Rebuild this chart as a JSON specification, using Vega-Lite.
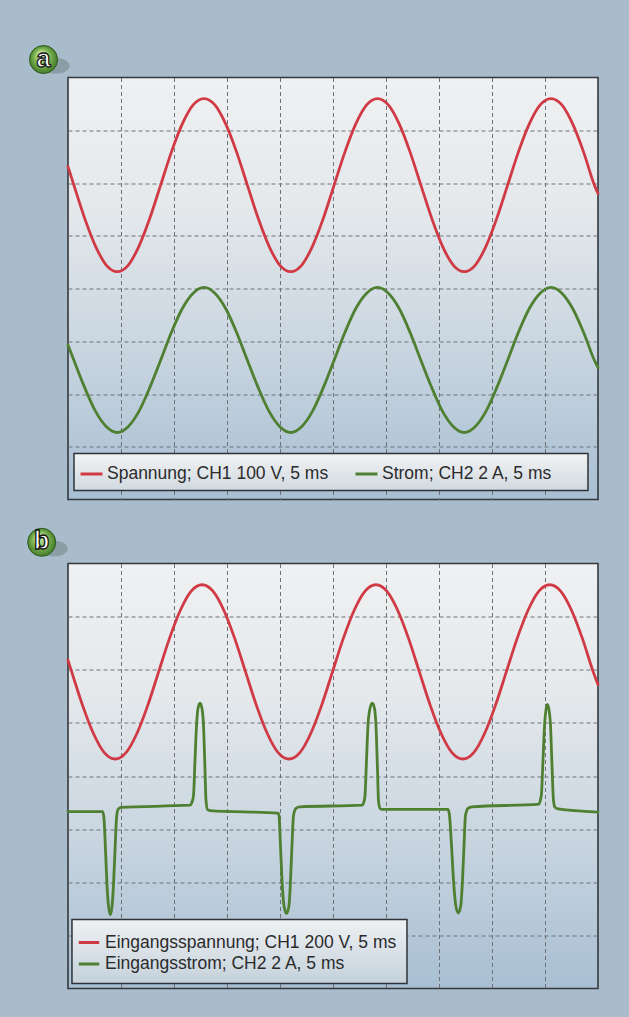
{
  "$schema": "https://vega.github.io/schema/vega-lite/v6.json",
  "background": "#a8bccb",
  "padding": {"left": 24, "top": 42.5, "right": 33, "bottom": 30},
  "bounds": "flush",
  "spacing": 64,
  "config": {
    "view": {
      "stroke": "#34373b",
      "strokeWidth": 1.6,
      "fill": {"gradient": "linear", "x1": 0, "y1": 0, "x2": 0, "y2": 1,
        "stops": [{"offset": 0, "color": "#eff0f1"}, {"offset": 0.3, "color": "#e5e9ec"}, {"offset": 0.65, "color": "#c8d5e0"}, {"offset": 1, "color": "#a8bfd3"}]}
    },
    "axis": {"labels": false, "ticks": false, "domain": false, "grid": true, "gridColor": "#6e7277", "gridDash": [4, 3], "gridWidth": 1, "gridOpacity": 1, "minExtent": 0, "maxExtent": 0, "labelPadding": 0, "tickSize": 0},
    "legend": {"labelFont": "Liberation Sans", "labelFontSize": 17.5, "labelColor": "#2b2b2b", "symbolType": "stroke", "symbolStrokeWidth": 3, "padding": 0, "labelLimit": 600}
  },
  "resolve": {"scale": {"x": "independent", "y": "independent", "color": "independent"}, "legend": {"color": "independent"}},
  "vconcat": [
    {
      "width": 530,
      "height": 422,
      "layer": [
        {
          "data": {"values": [
            {"x": 0, "y": 6.31, "s": "Spannung; CH1 100 V, 5 ms"},
            {"x": 0.111, "y": 5.96, "s": "Spannung; CH1 100 V, 5 ms"},
            {"x": 0.315, "y": 5.33, "s": "Spannung; CH1 100 V, 5 ms"},
            {"x": 0.52, "y": 4.8, "s": "Spannung; CH1 100 V, 5 ms"},
            {"x": 0.725, "y": 4.44, "s": "Spannung; CH1 100 V, 5 ms"},
            {"x": 0.929, "y": 4.32, "s": "Spannung; CH1 100 V, 5 ms"},
            {"x": 1.134, "y": 4.44, "s": "Spannung; CH1 100 V, 5 ms"},
            {"x": 1.338, "y": 4.8, "s": "Spannung; CH1 100 V, 5 ms"},
            {"x": 1.543, "y": 5.33, "s": "Spannung; CH1 100 V, 5 ms"},
            {"x": 1.748, "y": 5.96, "s": "Spannung; CH1 100 V, 5 ms"},
            {"x": 1.952, "y": 6.59, "s": "Spannung; CH1 100 V, 5 ms"},
            {"x": 2.157, "y": 7.12, "s": "Spannung; CH1 100 V, 5 ms"},
            {"x": 2.361, "y": 7.48, "s": "Spannung; CH1 100 V, 5 ms"},
            {"x": 2.566, "y": 7.6, "s": "Spannung; CH1 100 V, 5 ms"},
            {"x": 2.771, "y": 7.48, "s": "Spannung; CH1 100 V, 5 ms"},
            {"x": 2.975, "y": 7.12, "s": "Spannung; CH1 100 V, 5 ms"},
            {"x": 3.18, "y": 6.59, "s": "Spannung; CH1 100 V, 5 ms"},
            {"x": 3.384, "y": 5.96, "s": "Spannung; CH1 100 V, 5 ms"},
            {"x": 3.589, "y": 5.33, "s": "Spannung; CH1 100 V, 5 ms"},
            {"x": 3.794, "y": 4.8, "s": "Spannung; CH1 100 V, 5 ms"},
            {"x": 3.998, "y": 4.44, "s": "Spannung; CH1 100 V, 5 ms"},
            {"x": 4.203, "y": 4.32, "s": "Spannung; CH1 100 V, 5 ms"},
            {"x": 4.407, "y": 4.44, "s": "Spannung; CH1 100 V, 5 ms"},
            {"x": 4.612, "y": 4.8, "s": "Spannung; CH1 100 V, 5 ms"},
            {"x": 4.817, "y": 5.33, "s": "Spannung; CH1 100 V, 5 ms"},
            {"x": 5.021, "y": 5.96, "s": "Spannung; CH1 100 V, 5 ms"},
            {"x": 5.226, "y": 6.59, "s": "Spannung; CH1 100 V, 5 ms"},
            {"x": 5.43, "y": 7.12, "s": "Spannung; CH1 100 V, 5 ms"},
            {"x": 5.635, "y": 7.48, "s": "Spannung; CH1 100 V, 5 ms"},
            {"x": 5.84, "y": 7.6, "s": "Spannung; CH1 100 V, 5 ms"},
            {"x": 6.044, "y": 7.48, "s": "Spannung; CH1 100 V, 5 ms"},
            {"x": 6.249, "y": 7.12, "s": "Spannung; CH1 100 V, 5 ms"},
            {"x": 6.453, "y": 6.59, "s": "Spannung; CH1 100 V, 5 ms"},
            {"x": 6.658, "y": 5.96, "s": "Spannung; CH1 100 V, 5 ms"},
            {"x": 6.863, "y": 5.33, "s": "Spannung; CH1 100 V, 5 ms"},
            {"x": 7.067, "y": 4.8, "s": "Spannung; CH1 100 V, 5 ms"},
            {"x": 7.272, "y": 4.44, "s": "Spannung; CH1 100 V, 5 ms"},
            {"x": 7.476, "y": 4.32, "s": "Spannung; CH1 100 V, 5 ms"},
            {"x": 7.681, "y": 4.44, "s": "Spannung; CH1 100 V, 5 ms"},
            {"x": 7.886, "y": 4.8, "s": "Spannung; CH1 100 V, 5 ms"},
            {"x": 8.09, "y": 5.33, "s": "Spannung; CH1 100 V, 5 ms"},
            {"x": 8.295, "y": 5.96, "s": "Spannung; CH1 100 V, 5 ms"},
            {"x": 8.499, "y": 6.59, "s": "Spannung; CH1 100 V, 5 ms"},
            {"x": 8.704, "y": 7.12, "s": "Spannung; CH1 100 V, 5 ms"},
            {"x": 8.909, "y": 7.48, "s": "Spannung; CH1 100 V, 5 ms"},
            {"x": 9.113, "y": 7.6, "s": "Spannung; CH1 100 V, 5 ms"},
            {"x": 9.318, "y": 7.48, "s": "Spannung; CH1 100 V, 5 ms"},
            {"x": 9.522, "y": 7.12, "s": "Spannung; CH1 100 V, 5 ms"},
            {"x": 9.727, "y": 6.59, "s": "Spannung; CH1 100 V, 5 ms"},
            {"x": 9.932, "y": 5.96, "s": "Spannung; CH1 100 V, 5 ms"},
            {"x": 10, "y": 5.8, "s": "Spannung; CH1 100 V, 5 ms"},
            {"x": 0, "y": 2.93, "s": "Strom; CH2 2 A, 5 ms"},
            {"x": 0.111, "y": 2.64, "s": "Strom; CH2 2 A, 5 ms"},
            {"x": 0.315, "y": 2.12, "s": "Strom; CH2 2 A, 5 ms"},
            {"x": 0.52, "y": 1.67, "s": "Strom; CH2 2 A, 5 ms"},
            {"x": 0.725, "y": 1.38, "s": "Strom; CH2 2 A, 5 ms"},
            {"x": 0.929, "y": 1.27, "s": "Strom; CH2 2 A, 5 ms"},
            {"x": 1.134, "y": 1.38, "s": "Strom; CH2 2 A, 5 ms"},
            {"x": 1.338, "y": 1.67, "s": "Strom; CH2 2 A, 5 ms"},
            {"x": 1.543, "y": 2.12, "s": "Strom; CH2 2 A, 5 ms"},
            {"x": 1.748, "y": 2.64, "s": "Strom; CH2 2 A, 5 ms"},
            {"x": 1.952, "y": 3.17, "s": "Strom; CH2 2 A, 5 ms"},
            {"x": 2.157, "y": 3.62, "s": "Strom; CH2 2 A, 5 ms"},
            {"x": 2.361, "y": 3.91, "s": "Strom; CH2 2 A, 5 ms"},
            {"x": 2.566, "y": 4.02, "s": "Strom; CH2 2 A, 5 ms"},
            {"x": 2.771, "y": 3.91, "s": "Strom; CH2 2 A, 5 ms"},
            {"x": 2.975, "y": 3.62, "s": "Strom; CH2 2 A, 5 ms"},
            {"x": 3.18, "y": 3.17, "s": "Strom; CH2 2 A, 5 ms"},
            {"x": 3.384, "y": 2.64, "s": "Strom; CH2 2 A, 5 ms"},
            {"x": 3.589, "y": 2.12, "s": "Strom; CH2 2 A, 5 ms"},
            {"x": 3.794, "y": 1.67, "s": "Strom; CH2 2 A, 5 ms"},
            {"x": 3.998, "y": 1.38, "s": "Strom; CH2 2 A, 5 ms"},
            {"x": 4.203, "y": 1.27, "s": "Strom; CH2 2 A, 5 ms"},
            {"x": 4.407, "y": 1.38, "s": "Strom; CH2 2 A, 5 ms"},
            {"x": 4.612, "y": 1.67, "s": "Strom; CH2 2 A, 5 ms"},
            {"x": 4.817, "y": 2.12, "s": "Strom; CH2 2 A, 5 ms"},
            {"x": 5.021, "y": 2.64, "s": "Strom; CH2 2 A, 5 ms"},
            {"x": 5.226, "y": 3.17, "s": "Strom; CH2 2 A, 5 ms"},
            {"x": 5.43, "y": 3.62, "s": "Strom; CH2 2 A, 5 ms"},
            {"x": 5.635, "y": 3.91, "s": "Strom; CH2 2 A, 5 ms"},
            {"x": 5.84, "y": 4.02, "s": "Strom; CH2 2 A, 5 ms"},
            {"x": 6.044, "y": 3.91, "s": "Strom; CH2 2 A, 5 ms"},
            {"x": 6.249, "y": 3.62, "s": "Strom; CH2 2 A, 5 ms"},
            {"x": 6.453, "y": 3.17, "s": "Strom; CH2 2 A, 5 ms"},
            {"x": 6.658, "y": 2.64, "s": "Strom; CH2 2 A, 5 ms"},
            {"x": 6.863, "y": 2.12, "s": "Strom; CH2 2 A, 5 ms"},
            {"x": 7.067, "y": 1.67, "s": "Strom; CH2 2 A, 5 ms"},
            {"x": 7.272, "y": 1.38, "s": "Strom; CH2 2 A, 5 ms"},
            {"x": 7.476, "y": 1.27, "s": "Strom; CH2 2 A, 5 ms"},
            {"x": 7.681, "y": 1.38, "s": "Strom; CH2 2 A, 5 ms"},
            {"x": 7.886, "y": 1.67, "s": "Strom; CH2 2 A, 5 ms"},
            {"x": 8.09, "y": 2.12, "s": "Strom; CH2 2 A, 5 ms"},
            {"x": 8.295, "y": 2.64, "s": "Strom; CH2 2 A, 5 ms"},
            {"x": 8.499, "y": 3.17, "s": "Strom; CH2 2 A, 5 ms"},
            {"x": 8.704, "y": 3.62, "s": "Strom; CH2 2 A, 5 ms"},
            {"x": 8.909, "y": 3.91, "s": "Strom; CH2 2 A, 5 ms"},
            {"x": 9.113, "y": 4.02, "s": "Strom; CH2 2 A, 5 ms"},
            {"x": 9.318, "y": 3.91, "s": "Strom; CH2 2 A, 5 ms"},
            {"x": 9.522, "y": 3.62, "s": "Strom; CH2 2 A, 5 ms"},
            {"x": 9.727, "y": 3.17, "s": "Strom; CH2 2 A, 5 ms"},
            {"x": 9.932, "y": 2.64, "s": "Strom; CH2 2 A, 5 ms"},
            {"x": 10, "y": 2.5, "s": "Strom; CH2 2 A, 5 ms"}
          ]},
          "mark": {"type": "line", "interpolate": "monotone", "strokeWidth": 2.8, "strokeCap": "round"},
          "encoding": {
            "x": {"field": "x", "type": "quantitative", "title": null, "scale": {"domain": [0, 10], "nice": false, "zero": false}, "axis": {"values": [1, 2, 3, 4, 5, 6, 7, 8, 9]}},
            "y": {"field": "y", "type": "quantitative", "title": null, "scale": {"domain": [0, 8], "nice": false, "zero": false}, "axis": {"values": [1, 2, 3, 4, 5, 6, 7]}},
            "color": {"field": "s", "type": "nominal",
              "scale": {"domain": ["Spannung; CH1 100 V, 5 ms", "Strom; CH2 2 A, 5 ms"], "range": ["#d03a45", "#4f7f30"]},
              "legend": {"title": null, "orient": "none", "legendX": 11, "legendY": 384, "direction": "horizontal", "symbolSize": 484, "labelOffset": 3, "columnPadding": 20, "zindex": 1}}
          }
        },
        {
          "data": {"values": [{}]},
          "mark": {"type": "rect", "stroke": "#2f3236", "strokeWidth": 1.5,
            "fill": {"gradient": "linear", "x1": 0, "y1": 0, "x2": 0, "y2": 1, "stops": [{"offset": 0, "color": "#f2f3f4"}, {"offset": 1, "color": "#d0d9e0"}]}},
          "encoding": {"x": {"datum": 0.113, "title": null}, "x2": {"datum": 9.811}, "y": {"datum": 0.872, "title": null}, "y2": {"datum": 0.171}}
        },
        {
          "data": {"values": [{}]},
          "mark": {"type": "point", "filled": true, "shape": "M-1,0A1,0.55,0,1,0,1,0A1,0.55,0,1,0,-1,0Z", "size": 800, "color": "#56665e", "opacity": 0.35},
          "encoding": {"x": {"datum": -0.236, "title": null}, "y": {"datum": 8.22, "title": null}}
        },
        {
          "data": {"values": [{}]},
          "mark": {"type": "point", "filled": true, "shape": "circle", "size": 784, "stroke": "#2c5a1c", "strokeWidth": 1, "opacity": 1,
            "fill": {"gradient": "radial", "x1": 0.4, "y1": 0.3, "r1": 0.02, "x2": 0.5, "y2": 0.5, "r2": 0.55, "stops": [{"offset": 0, "color": "#e2f5c8"}, {"offset": 0.45, "color": "#86bb58"}, {"offset": 1, "color": "#3b7325"}]}},
          "encoding": {"x": {"datum": -0.462, "title": null}, "y": {"datum": 8.341, "title": null}}
        },
        {
          "data": {"values": [{}]},
          "mark": {"type": "text", "text": "a", "font": "Liberation Sans", "fontWeight": "bold", "fontSize": 25, "fill": "#ffffff", "stroke": "#151515", "strokeWidth": 1.3, "align": "center", "baseline": "alphabetic", "dy": 7},
          "encoding": {"x": {"datum": -0.462, "title": null}, "y": {"datum": 8.341, "title": null}}
        }
      ]
    },
    {
      "width": 530,
      "height": 425,
      "layer": [
        {
          "data": {"values": [
            {"x": 0, "y": 6.18, "s": "Eingangsspannung; CH1 200 V, 5 ms"},
            {"x": 0.07, "y": 5.96, "s": "Eingangsspannung; CH1 200 V, 5 ms"},
            {"x": 0.275, "y": 5.33, "s": "Eingangsspannung; CH1 200 V, 5 ms"},
            {"x": 0.48, "y": 4.8, "s": "Eingangsspannung; CH1 200 V, 5 ms"},
            {"x": 0.685, "y": 4.44, "s": "Eingangsspannung; CH1 200 V, 5 ms"},
            {"x": 0.89, "y": 4.32, "s": "Eingangsspannung; CH1 200 V, 5 ms"},
            {"x": 1.095, "y": 4.44, "s": "Eingangsspannung; CH1 200 V, 5 ms"},
            {"x": 1.3, "y": 4.8, "s": "Eingangsspannung; CH1 200 V, 5 ms"},
            {"x": 1.505, "y": 5.33, "s": "Eingangsspannung; CH1 200 V, 5 ms"},
            {"x": 1.71, "y": 5.96, "s": "Eingangsspannung; CH1 200 V, 5 ms"},
            {"x": 1.915, "y": 6.59, "s": "Eingangsspannung; CH1 200 V, 5 ms"},
            {"x": 2.12, "y": 7.12, "s": "Eingangsspannung; CH1 200 V, 5 ms"},
            {"x": 2.325, "y": 7.48, "s": "Eingangsspannung; CH1 200 V, 5 ms"},
            {"x": 2.53, "y": 7.6, "s": "Eingangsspannung; CH1 200 V, 5 ms"},
            {"x": 2.735, "y": 7.48, "s": "Eingangsspannung; CH1 200 V, 5 ms"},
            {"x": 2.94, "y": 7.12, "s": "Eingangsspannung; CH1 200 V, 5 ms"},
            {"x": 3.145, "y": 6.59, "s": "Eingangsspannung; CH1 200 V, 5 ms"},
            {"x": 3.35, "y": 5.96, "s": "Eingangsspannung; CH1 200 V, 5 ms"},
            {"x": 3.555, "y": 5.33, "s": "Eingangsspannung; CH1 200 V, 5 ms"},
            {"x": 3.76, "y": 4.8, "s": "Eingangsspannung; CH1 200 V, 5 ms"},
            {"x": 3.965, "y": 4.44, "s": "Eingangsspannung; CH1 200 V, 5 ms"},
            {"x": 4.17, "y": 4.32, "s": "Eingangsspannung; CH1 200 V, 5 ms"},
            {"x": 4.375, "y": 4.44, "s": "Eingangsspannung; CH1 200 V, 5 ms"},
            {"x": 4.58, "y": 4.8, "s": "Eingangsspannung; CH1 200 V, 5 ms"},
            {"x": 4.785, "y": 5.33, "s": "Eingangsspannung; CH1 200 V, 5 ms"},
            {"x": 4.99, "y": 5.96, "s": "Eingangsspannung; CH1 200 V, 5 ms"},
            {"x": 5.195, "y": 6.59, "s": "Eingangsspannung; CH1 200 V, 5 ms"},
            {"x": 5.4, "y": 7.12, "s": "Eingangsspannung; CH1 200 V, 5 ms"},
            {"x": 5.605, "y": 7.48, "s": "Eingangsspannung; CH1 200 V, 5 ms"},
            {"x": 5.81, "y": 7.6, "s": "Eingangsspannung; CH1 200 V, 5 ms"},
            {"x": 6.015, "y": 7.48, "s": "Eingangsspannung; CH1 200 V, 5 ms"},
            {"x": 6.22, "y": 7.12, "s": "Eingangsspannung; CH1 200 V, 5 ms"},
            {"x": 6.425, "y": 6.59, "s": "Eingangsspannung; CH1 200 V, 5 ms"},
            {"x": 6.63, "y": 5.96, "s": "Eingangsspannung; CH1 200 V, 5 ms"},
            {"x": 6.835, "y": 5.33, "s": "Eingangsspannung; CH1 200 V, 5 ms"},
            {"x": 7.04, "y": 4.8, "s": "Eingangsspannung; CH1 200 V, 5 ms"},
            {"x": 7.245, "y": 4.44, "s": "Eingangsspannung; CH1 200 V, 5 ms"},
            {"x": 7.45, "y": 4.32, "s": "Eingangsspannung; CH1 200 V, 5 ms"},
            {"x": 7.655, "y": 4.44, "s": "Eingangsspannung; CH1 200 V, 5 ms"},
            {"x": 7.86, "y": 4.8, "s": "Eingangsspannung; CH1 200 V, 5 ms"},
            {"x": 8.065, "y": 5.33, "s": "Eingangsspannung; CH1 200 V, 5 ms"},
            {"x": 8.27, "y": 5.96, "s": "Eingangsspannung; CH1 200 V, 5 ms"},
            {"x": 8.475, "y": 6.59, "s": "Eingangsspannung; CH1 200 V, 5 ms"},
            {"x": 8.68, "y": 7.12, "s": "Eingangsspannung; CH1 200 V, 5 ms"},
            {"x": 8.885, "y": 7.48, "s": "Eingangsspannung; CH1 200 V, 5 ms"},
            {"x": 9.09, "y": 7.6, "s": "Eingangsspannung; CH1 200 V, 5 ms"},
            {"x": 9.295, "y": 7.48, "s": "Eingangsspannung; CH1 200 V, 5 ms"},
            {"x": 9.5, "y": 7.12, "s": "Eingangsspannung; CH1 200 V, 5 ms"},
            {"x": 9.705, "y": 6.59, "s": "Eingangsspannung; CH1 200 V, 5 ms"},
            {"x": 9.91, "y": 5.96, "s": "Eingangsspannung; CH1 200 V, 5 ms"},
            {"x": 10, "y": 5.72, "s": "Eingangsspannung; CH1 200 V, 5 ms"},
            {"x": 0, "y": 3.33, "s": "Eingangsstrom; CH2 2 A, 5 ms"},
            {"x": 0.655, "y": 3.33, "s": "Eingangsstrom; CH2 2 A, 5 ms"},
            {"x": 0.679, "y": 3.2, "s": "Eingangsstrom; CH2 2 A, 5 ms"},
            {"x": 0.708, "y": 2.6, "s": "Eingangsstrom; CH2 2 A, 5 ms"},
            {"x": 0.736, "y": 1.94, "s": "Eingangsstrom; CH2 2 A, 5 ms"},
            {"x": 0.764, "y": 1.56, "s": "Eingangsstrom; CH2 2 A, 5 ms"},
            {"x": 0.798, "y": 1.39, "s": "Eingangsstrom; CH2 2 A, 5 ms"},
            {"x": 0.83, "y": 1.54, "s": "Eingangsstrom; CH2 2 A, 5 ms"},
            {"x": 0.858, "y": 1.94, "s": "Eingangsstrom; CH2 2 A, 5 ms"},
            {"x": 0.887, "y": 2.6, "s": "Eingangsstrom; CH2 2 A, 5 ms"},
            {"x": 0.915, "y": 3.2, "s": "Eingangsstrom; CH2 2 A, 5 ms"},
            {"x": 0.943, "y": 3.37, "s": "Eingangsstrom; CH2 2 A, 5 ms"},
            {"x": 1.0, "y": 3.41, "s": "Eingangsstrom; CH2 2 A, 5 ms"},
            {"x": 2.302, "y": 3.45, "s": "Eingangsstrom; CH2 2 A, 5 ms"},
            {"x": 2.349, "y": 3.54, "s": "Eingangsstrom; CH2 2 A, 5 ms"},
            {"x": 2.368, "y": 3.63, "s": "Eingangsstrom; CH2 2 A, 5 ms"},
            {"x": 2.396, "y": 4.29, "s": "Eingangsstrom; CH2 2 A, 5 ms"},
            {"x": 2.425, "y": 4.95, "s": "Eingangsstrom; CH2 2 A, 5 ms"},
            {"x": 2.453, "y": 5.27, "s": "Eingangsstrom; CH2 2 A, 5 ms"},
            {"x": 2.491, "y": 5.37, "s": "Eingangsstrom; CH2 2 A, 5 ms"},
            {"x": 2.528, "y": 5.27, "s": "Eingangsstrom; CH2 2 A, 5 ms"},
            {"x": 2.557, "y": 4.95, "s": "Eingangsstrom; CH2 2 A, 5 ms"},
            {"x": 2.585, "y": 4.11, "s": "Eingangsstrom; CH2 2 A, 5 ms"},
            {"x": 2.604, "y": 3.54, "s": "Eingangsstrom; CH2 2 A, 5 ms"},
            {"x": 2.632, "y": 3.37, "s": "Eingangsstrom; CH2 2 A, 5 ms"},
            {"x": 2.679, "y": 3.35, "s": "Eingangsstrom; CH2 2 A, 5 ms"},
            {"x": 3.962, "y": 3.3, "s": "Eingangsstrom; CH2 2 A, 5 ms"},
            {"x": 3.981, "y": 3.26, "s": "Eingangsstrom; CH2 2 A, 5 ms"},
            {"x": 4.009, "y": 2.69, "s": "Eingangsstrom; CH2 2 A, 5 ms"},
            {"x": 4.038, "y": 2.03, "s": "Eingangsstrom; CH2 2 A, 5 ms"},
            {"x": 4.075, "y": 1.56, "s": "Eingangsstrom; CH2 2 A, 5 ms"},
            {"x": 4.123, "y": 1.41, "s": "Eingangsstrom; CH2 2 A, 5 ms"},
            {"x": 4.17, "y": 1.56, "s": "Eingangsstrom; CH2 2 A, 5 ms"},
            {"x": 4.198, "y": 2.03, "s": "Eingangsstrom; CH2 2 A, 5 ms"},
            {"x": 4.226, "y": 2.69, "s": "Eingangsstrom; CH2 2 A, 5 ms"},
            {"x": 4.255, "y": 3.26, "s": "Eingangsstrom; CH2 2 A, 5 ms"},
            {"x": 4.302, "y": 3.39, "s": "Eingangsstrom; CH2 2 A, 5 ms"},
            {"x": 4.377, "y": 3.42, "s": "Eingangsstrom; CH2 2 A, 5 ms"},
            {"x": 5.547, "y": 3.45, "s": "Eingangsstrom; CH2 2 A, 5 ms"},
            {"x": 5.585, "y": 3.52, "s": "Eingangsstrom; CH2 2 A, 5 ms"},
            {"x": 5.604, "y": 3.63, "s": "Eingangsstrom; CH2 2 A, 5 ms"},
            {"x": 5.632, "y": 4.29, "s": "Eingangsstrom; CH2 2 A, 5 ms"},
            {"x": 5.66, "y": 4.95, "s": "Eingangsstrom; CH2 2 A, 5 ms"},
            {"x": 5.698, "y": 5.27, "s": "Eingangsstrom; CH2 2 A, 5 ms"},
            {"x": 5.742, "y": 5.37, "s": "Eingangsstrom; CH2 2 A, 5 ms"},
            {"x": 5.783, "y": 5.27, "s": "Eingangsstrom; CH2 2 A, 5 ms"},
            {"x": 5.811, "y": 4.95, "s": "Eingangsstrom; CH2 2 A, 5 ms"},
            {"x": 5.84, "y": 4.11, "s": "Eingangsstrom; CH2 2 A, 5 ms"},
            {"x": 5.858, "y": 3.54, "s": "Eingangsstrom; CH2 2 A, 5 ms"},
            {"x": 5.887, "y": 3.39, "s": "Eingangsstrom; CH2 2 A, 5 ms"},
            {"x": 5.925, "y": 3.37, "s": "Eingangsstrom; CH2 2 A, 5 ms"},
            {"x": 7.17, "y": 3.37, "s": "Eingangsstrom; CH2 2 A, 5 ms"},
            {"x": 7.198, "y": 3.26, "s": "Eingangsstrom; CH2 2 A, 5 ms"},
            {"x": 7.236, "y": 2.69, "s": "Eingangsstrom; CH2 2 A, 5 ms"},
            {"x": 7.274, "y": 2.03, "s": "Eingangsstrom; CH2 2 A, 5 ms"},
            {"x": 7.317, "y": 1.56, "s": "Eingangsstrom; CH2 2 A, 5 ms"},
            {"x": 7.364, "y": 1.42, "s": "Eingangsstrom; CH2 2 A, 5 ms"},
            {"x": 7.411, "y": 1.56, "s": "Eingangsstrom; CH2 2 A, 5 ms"},
            {"x": 7.443, "y": 2.03, "s": "Eingangsstrom; CH2 2 A, 5 ms"},
            {"x": 7.472, "y": 2.69, "s": "Eingangsstrom; CH2 2 A, 5 ms"},
            {"x": 7.5, "y": 3.26, "s": "Eingangsstrom; CH2 2 A, 5 ms"},
            {"x": 7.547, "y": 3.39, "s": "Eingangsstrom; CH2 2 A, 5 ms"},
            {"x": 7.623, "y": 3.42, "s": "Eingangsstrom; CH2 2 A, 5 ms"},
            {"x": 8.887, "y": 3.47, "s": "Eingangsstrom; CH2 2 A, 5 ms"},
            {"x": 8.915, "y": 3.56, "s": "Eingangsstrom; CH2 2 A, 5 ms"},
            {"x": 8.934, "y": 3.67, "s": "Eingangsstrom; CH2 2 A, 5 ms"},
            {"x": 8.962, "y": 4.29, "s": "Eingangsstrom; CH2 2 A, 5 ms"},
            {"x": 8.991, "y": 4.95, "s": "Eingangsstrom; CH2 2 A, 5 ms"},
            {"x": 9.019, "y": 5.25, "s": "Eingangsstrom; CH2 2 A, 5 ms"},
            {"x": 9.043, "y": 5.35, "s": "Eingangsstrom; CH2 2 A, 5 ms"},
            {"x": 9.075, "y": 5.25, "s": "Eingangsstrom; CH2 2 A, 5 ms"},
            {"x": 9.104, "y": 4.95, "s": "Eingangsstrom; CH2 2 A, 5 ms"},
            {"x": 9.132, "y": 4.2, "s": "Eingangsstrom; CH2 2 A, 5 ms"},
            {"x": 9.16, "y": 3.54, "s": "Eingangsstrom; CH2 2 A, 5 ms"},
            {"x": 9.189, "y": 3.41, "s": "Eingangsstrom; CH2 2 A, 5 ms"},
            {"x": 9.245, "y": 3.38, "s": "Eingangsstrom; CH2 2 A, 5 ms"},
            {"x": 10, "y": 3.32, "s": "Eingangsstrom; CH2 2 A, 5 ms"}
          ]},
          "mark": {"type": "line", "interpolate": "monotone", "strokeWidth": 2.8, "strokeCap": "round", "strokeJoin": "round"},
          "encoding": {
            "x": {"field": "x", "type": "quantitative", "title": null, "scale": {"domain": [0, 10], "nice": false, "zero": false}, "axis": {"values": [1, 2, 3, 4, 5, 6, 7, 8, 9]}},
            "y": {"field": "y", "type": "quantitative", "title": null, "scale": {"domain": [0, 8], "nice": false, "zero": false}, "axis": {"values": [1, 2, 3, 4, 5, 6, 7]}},
            "color": {"field": "s", "type": "nominal",
              "scale": {"domain": ["Eingangsspannung; CH1 200 V, 5 ms", "Eingangsstrom; CH2 2 A, 5 ms"], "range": ["#d03a45", "#4f7f30"]},
              "legend": {"title": null, "orient": "none", "legendX": 9, "legendY": 367, "direction": "vertical", "symbolSize": 420, "labelOffset": 4, "rowPadding": 0.5, "zindex": 1}}
          }
        },
        {
          "data": {"values": [{}]},
          "mark": {"type": "rect", "stroke": "#2f3236", "strokeWidth": 1.5,
            "fill": {"gradient": "linear", "x1": 0, "y1": 0, "x2": 0, "y2": 1, "stops": [{"offset": 0, "color": "#eef1f3"}, {"offset": 1, "color": "#c4d1db"}]}},
          "encoding": {"x": {"datum": 0.075, "title": null}, "x2": {"datum": 6.396}, "y": {"datum": 1.299, "title": null}, "y2": {"datum": 0.094}}
        },
        {
          "data": {"values": [{}]},
          "mark": {"type": "point", "filled": true, "shape": "M-1,0A1,0.55,0,1,0,1,0A1,0.55,0,1,0,-1,0Z", "size": 800, "color": "#56665e", "opacity": 0.35},
          "encoding": {"x": {"datum": -0.27, "title": null}, "y": {"datum": 8.28, "title": null}}
        },
        {
          "data": {"values": [{}]},
          "mark": {"type": "point", "filled": true, "shape": "circle", "size": 784, "stroke": "#2c5a1c", "strokeWidth": 1, "opacity": 1,
            "fill": {"gradient": "radial", "x1": 0.4, "y1": 0.3, "r1": 0.02, "x2": 0.5, "y2": 0.5, "r2": 0.55, "stops": [{"offset": 0, "color": "#e2f5c8"}, {"offset": 0.45, "color": "#86bb58"}, {"offset": 1, "color": "#3b7325"}]}},
          "encoding": {"x": {"datum": -0.496, "title": null}, "y": {"datum": 8.399, "title": null}}
        },
        {
          "data": {"values": [{}]},
          "mark": {"type": "text", "text": "b", "font": "Liberation Sans", "fontWeight": "bold", "fontSize": 25, "fill": "#ffffff", "stroke": "#151515", "strokeWidth": 1.3, "align": "center", "baseline": "alphabetic", "dy": 7},
          "encoding": {"x": {"datum": -0.496, "title": null}, "y": {"datum": 8.399, "title": null}}
        }
      ]
    }
  ]
}
